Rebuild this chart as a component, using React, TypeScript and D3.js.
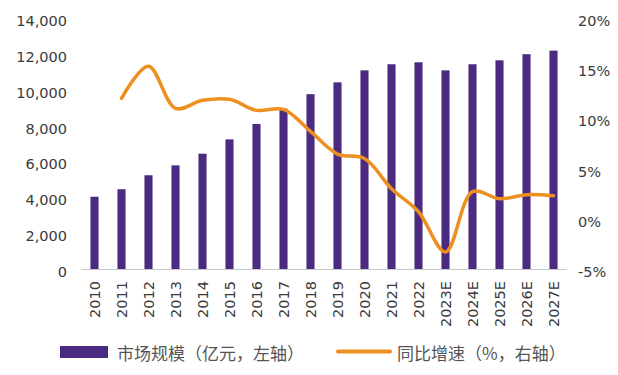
import React from "react";
import * as d3 from "d3";

const categories = ["2010","2011","2012","2013","2014","2015","2016","2017","2018","2019","2020","2021","2022","2023E","2024E","2025E","2026E","2027E"];
const marketSize = [4030,4450,5230,5780,6430,7230,8090,8940,9750,10410,11080,11420,11530,11080,11420,11640,11980,12180];
const growth: (number | null)[] = [null,12.0,15.2,11.0,11.8,11.9,10.8,10.9,8.7,6.45,6.0,3.0,0.7,-3.3,2.7,2.0,2.4,2.3];
const leftTicks = [0,2000,4000,6000,8000,10000,12000,14000];
const rightTicks = [-5,0,5,10,15,20];
const legendBar = "市场规模（亿元，左轴）";
const legendLine = "同比增速（%，右轴）";

const W = 618, H = 375;
const top = 18, bottom = 269, left = 81, right = 567;
const purple = "#4B2A82";
const orange = "#EE9020";
const textColor = "#3a3a3a";
const numFont = "'DejaVu Sans', Verdana, sans-serif";
const cjkFont = "'Noto Sans CJK SC', sans-serif";

export default function App() {
  const x = d3.scaleBand<string>().domain(categories).range([left, right]).paddingInner(0.7).paddingOuter(0.35);
  const yL = d3.scaleLinear().domain([0, 14000]).range([bottom, top]);
  const yR = d3.scaleLinear().domain([-5, 20]).range([bottom, top]);
  const fmt = d3.format(",");
  const pts = categories.map((c, i) => ({ c, v: growth[i] })).filter(d => d.v !== null) as { c: string; v: number }[];
  const line = d3.line<{ c: string; v: number }>()
    .x(d => (x(d.c) as number) + x.bandwidth() / 2)
    .y(d => yR(d.v))
    .curve(d3.curveCatmullRom.alpha(0.5));

  return (
    <svg width={W} height={H} style={{ position: "absolute", left: 0, top: 0, background: "#fff" }}>
      {categories.map((c, i) => (
        <rect key={c} x={x(c)} y={yL(marketSize[i])} width={x.bandwidth()} height={bottom - yL(marketSize[i])} fill={purple} />
      ))}
      <line x1={left} x2={right} y1={bottom + 0.5} y2={bottom + 0.5} stroke="#c8c8c8" strokeWidth={1} />
      <path d={line(pts) || ""} fill="none" stroke={orange} strokeWidth={3.5} strokeLinejoin="round" strokeLinecap="round" />
      {leftTicks.map(t => (
        <text key={"l" + t} x={67} y={yL(t) + 3} textAnchor="end" dominantBaseline="central" fontFamily={numFont} fontSize={14.5} fill={textColor}>{fmt(t)}</text>
      ))}
      {rightTicks.map(t => (
        <text key={"r" + t} x={578} y={yR(t) + 3} textAnchor="start" dominantBaseline="central" fontFamily={numFont} fontSize={14.5} fill={textColor}>{t + "%"}</text>
      ))}
      {categories.map(c => {
        const cx = (x(c) as number) + x.bandwidth() / 2;
        return (
          <text key={"x" + c} transform={`translate(${cx},281) rotate(-90)`} textAnchor="end" dominantBaseline="central" fontFamily={numFont} fontSize={14.5} fill={textColor}>{c}</text>
        );
      })}
      <rect x={60} y={346} width={48} height={12} fill={purple} />
      <text x={117} y={352} dominantBaseline="central" fontFamily={cjkFont} fontSize={17} fill="#555">{legendBar}</text>
      <line x1={338} x2={390} y1={351.5} y2={351.5} stroke={orange} strokeWidth={4} strokeLinecap="round" />
      <text x={397} y={352} dominantBaseline="central" fontFamily={cjkFont} fontSize={17} fill="#555">{legendLine}</text>
    </svg>
  );
}
